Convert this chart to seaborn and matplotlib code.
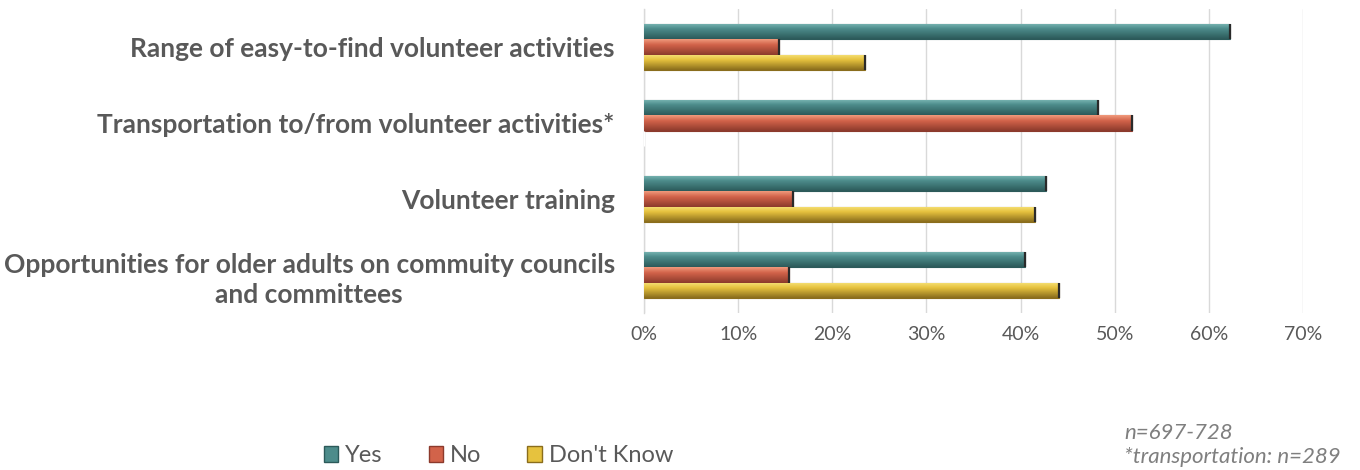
import numpy as np
import pandas as pd
import matplotlib
matplotlib.use("Agg")
import matplotlib.pyplot as plt
from matplotlib.colors import to_rgb
from matplotlib.patches import Patch
from matplotlib.ticker import FuncFormatter
import seaborn as sns

# Survey results: share of respondents per answer (percent)
categories = [
    "Range of easy-to-find volunteer activities",
    "Transportation to/from volunteer activities*",
    "Volunteer training",
    "Opportunities for older adults on commuity councils\nand committees",
]
responses = ["Yes", "No", "Don't Know"]
yes_pct = [62.2, 48.2, 42.7, 40.5]
no_pct = [14.3, 51.8, 15.8, 15.4]
dont_know_pct = [23.5, 0.0, 41.5, 44.1]
x_ticks = [0, 10, 20, 30, 40, 50, 60, 70]
notes = ["n=697-728", "*transportation: n=289"]

# Bar shading: (light top, body, dark bottom) per response
shades = {
    "Yes": ("#7cb8b6", "#4d8c8b", "#2c5a5a"),
    "No": ("#f09a7c", "#d2634a", "#8c3a2c"),
    "Don't Know": ("#f7e27a", "#e6c23e", "#8a6d1c"),
}
text_color = "#595959"

df = pd.DataFrame({
    "category": np.repeat(categories, 3),
    "response": responses * len(categories),
    "value": [v for trio in zip(yes_pct, no_pct, dont_know_pct) for v in trio],
})

sns.set_theme(style="white")
plt.rcParams["font.family"] = ["Lato", "DejaVu Sans"]

fig = plt.figure(figsize=(13.6, 4.7), dpi=100)
ax = fig.add_axes([644 / 1360, 1 - 313 / 470, (1303 - 644) / 1360, (313 - 9) / 470])

palette = {k: v[1] for k, v in shades.items()}
sns.barplot(
    data=df, x="value", y="category", hue="response", hue_order=responses,
    order=categories, palette=palette, orient="h", width=0.63, gap=0.06,
    legend=False, ax=ax, saturation=1, zorder=3,
)

ax.set_xlim(0, 70)
ylim = ax.get_ylim()

# Bevelled look: vertical gradient clipped to each bar
bar_colors = []
for resp in responses:
    bar_colors += [resp] * len(categories)
for patch, resp in zip(ax.patches, bar_colors):
    w = patch.get_width()
    if w <= 0:
        continue
    light, body, dark = (np.array(to_rgb(c)) for c in shades[resp])
    t = np.linspace(0, 1, 40)[:, None]
    grad = np.where(
        t < 0.35,
        light + (body - light) * (t / 0.35),
        body + (dark - body) * ((t - 0.35) / 0.65),
    )
    img = grad[:, None, :]
    y0 = patch.get_y()
    h = patch.get_height()
    im = ax.imshow(img, extent=[patch.get_x(), patch.get_x() + w, y0 + h, y0],
                   aspect="auto", zorder=4, interpolation="bilinear")
    im.set_clip_path(patch)
    patch.set_edgecolor(shades[resp][2])
    patch.set_linewidth(0.8)
    # dark bevel at the bar end
    ax.plot([w, w], [y0, y0 + h], color="#2a2a2a", lw=1.6, zorder=5,
            solid_capstyle="butt")

ax.set_xlim(0, 70)
ax.set_ylim(ylim)

ax.set_xticks(x_ticks)
ax.xaxis.set_major_formatter(FuncFormatter(lambda v, _: f"{v:.0f}%"))
ax.grid(axis="x", color="#d9d9d9", lw=1.0, zorder=0)
ax.grid(axis="y", visible=False)
ax.set_xlabel("")
ax.set_ylabel("")
for side in ("top", "right", "bottom"):
    ax.spines[side].set_visible(False)
ax.spines["left"].set_color("#d9d9d9")
ax.spines["left"].set_linewidth(1.0)

ax.tick_params(axis="x", length=0, pad=9, labelsize=14, labelcolor=text_color)
ax.tick_params(axis="y", length=0, pad=21, labelsize=19, labelcolor=text_color)
for lab in ax.get_yticklabels():
    lab.set_fontweight("bold")
    lab.set_multialignment("center")
    lab.set_linespacing(1.3)

handles = [Patch(facecolor=shades[r][1], edgecolor=shades[r][2], label=r) for r in responses]
fig.legend(handles=handles, loc="center", bbox_to_anchor=(0.3666, 0.031), ncol=3,
           frameon=False, handlelength=0.6, handleheight=0.65, handletextpad=0.3,
           columnspacing=1.95, prop={"size": 17}, labelcolor=text_color)

fig.text(1124 / 1360, 1 - 433 / 470, notes[0], style="italic", fontsize=16,
         color="#7f7f7f", va="center", ha="left")
fig.text(1124 / 1360, 1 - 457 / 470, notes[1], style="italic", fontsize=16,
         color="#7f7f7f", va="center", ha="left")

fig.savefig("out.png", dpi=100)
